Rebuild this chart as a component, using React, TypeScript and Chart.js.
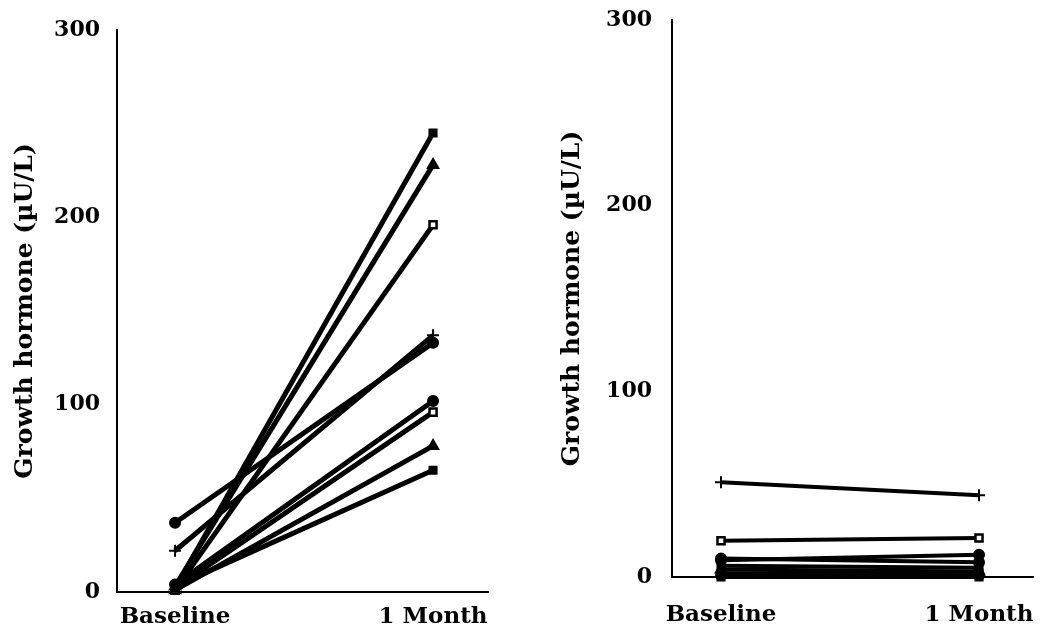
import React, { useEffect, useRef } from "react";
import { Chart, registerables } from "chart.js";

Chart.register(...registerables);

const categories = ["Baseline", "1 Month"];
const yTickValues = [0, 100, 200, 300];
const yTitle = "Growth hormone (µU/L)";

const leftBaseline = [2, 3, 1, 22, 37, 4, 2, 1, 3];
const leftMonth = [245, 228, 196, 137, 133, 102, 96, 78, 65];
const leftMarkers = ["rect", "triangle", "rectOpen", "cross", "circle", "circle", "rectOpen", "triangle", "rect"];

const rightBaseline = [51, 19.5, 9, 10, 6, 4, 2, 1, 0];
const rightMonth = [44, 21, 12, 8, 5, 3, 2, 1, 0];
const rightMarkers = ["cross", "rectOpen", "circle", "circle", "rect", "triangle", "rect", "circle", "rect"];

const FONT = "'DejaVu Serif', 'Liberation Serif', serif";

type PanelCfg = {
  base: number[];
  month: number[];
  markers: string[];
  lineWidth: number;
  padTop: number;
  padRight: number;
  yAxisWidth: number;
  xAxisHeight: number;
  xMin: number;
  xMax: number;
  xLabelPad: number;
  yLabelPad: number;
  titlePad: number;
};

function makeDatasets(cfg: PanelCfg) {
  return cfg.base.map((b, i) => {
    const m = cfg.markers[i];
    const open = m === "rectOpen";
    const style = open ? "rect" : m;
    return {
      data: [
        { x: 0, y: b },
        { x: 1, y: cfg.month[i] },
      ],
      borderColor: "#000",
      borderWidth: cfg.lineWidth,
      pointStyle: style,
      pointRadius: style === "cross" ? 6 : style === "triangle" ? 6 : 5,
      pointBackgroundColor: open ? "#fff" : "#000",
      pointBorderColor: "#000",
      pointBorderWidth: open ? 2.5 : 2,
      tension: 0,
      fill: false,
      clip: false as any,
    };
  });
}

function Panel({ cfg, width, height }: { cfg: PanelCfg; width: number; height: number }) {
  const ref = useRef<HTMLCanvasElement | null>(null);
  useEffect(() => {
    if (!ref.current) return;
    const chart = new Chart(ref.current, {
      type: "line",
      data: { datasets: makeDatasets(cfg) as any },
      options: {
        animation: false,
        responsive: false,
        events: [],
        layout: { padding: { top: cfg.padTop, right: cfg.padRight, left: 0, bottom: 0 } },
        plugins: { legend: { display: false }, tooltip: { enabled: false } },
        scales: {
          x: {
            type: "linear",
            min: cfg.xMin,
            max: cfg.xMax,
            grid: { display: false, drawTicks: false },
            border: { display: true, color: "#000", width: 2 },
            afterBuildTicks: (s: any) => {
              s.ticks = categories.map((_, i) => ({ value: i }));
            },
            afterFit: (s: any) => {
              s.height = cfg.xAxisHeight;
            },
            ticks: {
              autoSkip: false,
              maxRotation: 0,
              padding: cfg.xLabelPad,
              color: "#000",
              font: { family: FONT, size: 23, weight: "bold" },
              callback: (v: any) => categories[v as number] ?? "",
            },
          },
          y: {
            type: "linear",
            min: 0,
            max: 300,
            grid: { display: false, drawTicks: true, tickLength: cfg.yLabelPad },
            border: { display: true, color: "#000", width: 2 },
            afterBuildTicks: (s: any) => {
              s.ticks = yTickValues.map((v) => ({ value: v }));
            },
            afterFit: (s: any) => {
              s.width = cfg.yAxisWidth;
            },
            ticks: {
              padding: 0,
              color: "#000",
              font: { family: FONT, size: 22, weight: "bold" },
            },
            title: {
              display: true,
              text: yTitle,
              color: "#000",
              font: { family: FONT, size: 25, weight: "bold" },
              padding: { top: cfg.titlePad, bottom: 0 },
            },
          },
        },
      },
    });
    return () => chart.destroy();
  }, []);
  return <canvas ref={ref} width={width} height={height} style={{ display: "block" }} />;
}

const leftCfg: PanelCfg = {
  base: leftBaseline,
  month: leftMonth,
  markers: leftMarkers,
  lineWidth: 5,
  padTop: 30,
  padRight: 42,
  yAxisWidth: 117,
  xAxisHeight: 39,
  xMin: -0.225,
  xMax: 1.213,
  xLabelPad: 11,
  yLabelPad: 17,
  titlePad: 10,
};

const rightCfg: PanelCfg = {
  base: rightBaseline,
  month: rightMonth,
  markers: rightMarkers,
  lineWidth: 4,
  padTop: 20,
  padRight: 17,
  yAxisWidth: 142,
  xAxisHeight: 54,
  xMin: -0.19,
  xMax: 1.21,
  xLabelPad: 24,
  yLabelPad: 20,
  titlePad: 27,
};

export default function App() {
  return (
    <div
      style={{
        position: "absolute",
        left: 0,
        top: 0,
        width: 1060,
        height: 631,
        background: "#fff",
        display: "flex",
      }}
    >
      <Panel cfg={leftCfg} width={530} height={631} />
      <Panel cfg={rightCfg} width={530} height={631} />
    </div>
  );
}
